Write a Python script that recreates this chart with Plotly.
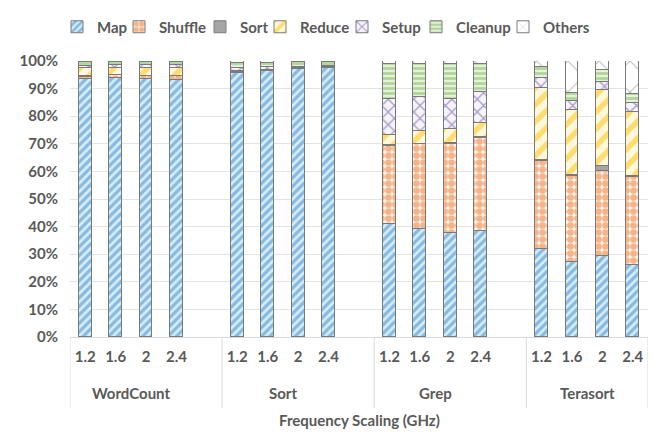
import plotly.graph_objects as go

# Benchmarks and CPU frequency settings (GHz)
benchmarks = ["WordCount", "Sort", "Grep", "Terasort"]
freqs = ["1.2", "1.6", "2", "2.4"]

# Share of execution time per phase (%), ordered WordCount, Sort, Grep, Terasort x 4 freqs
map_pct = [93.3, 93.8, 93.5, 93.2, 95.6, 96.3, 97.0, 97.4,
           41.0, 39.0, 37.7, 38.5, 31.8, 27.0, 29.3, 26.0]
shuffle_pct = [1.0, 1.0, 1.0, 1.2, 0.3, 0.3, 0.2, 0.2,
               28.3, 30.8, 32.3, 33.5, 32.0, 31.3, 31.0, 32.0]
sort_pct = [0.2, 0.2, 0.2, 0.2, 0.2, 0.1, 0.1, 0.1,
            0.3, 0.3, 0.3, 0.3, 0.3, 0.3, 1.7, 0.3]
reduce_pct = [2.8, 2.6, 2.8, 2.8, 0.2, 0.2, 0.1, 0.1,
              3.5, 4.4, 5.2, 5.4, 26.0, 23.6, 27.5, 23.4]
setup_pct = [1.0, 1.0, 1.0, 1.0, 1.0, 0.8, 0.5, 0.5,
             13.3, 12.3, 10.8, 11.1, 3.9, 3.4, 3.0, 3.2]
cleanup_pct = [1.2, 1.0, 1.0, 1.1, 1.8, 1.5, 1.6, 1.4,
               12.4, 12.0, 12.5, 10.0, 4.0, 2.7, 4.2, 3.1]
others_pct = [0.5, 0.4, 0.5, 0.5, 0.9, 0.8, 0.5, 0.3,
              1.2, 1.2, 1.2, 1.2, 2.0, 11.7, 3.3, 12.0]

# Category slots: 4 frequencies per benchmark plus one empty slot between groups
slots_per_group = 5
x_pos = [g * slots_per_group + i for g in range(len(benchmarks)) for i in range(len(freqs))]
tick_text = [f for _ in benchmarks for f in freqs]

# name, values, background, stripe colour, pattern shape, pattern size, solidity
series = [
    ("Map", map_pct, "#D6EEFA", "#3A86C8", "/", 6, 0.55),
    ("Shuffle", shuffle_pct, "#FFF4EA", "#EA7428", ".", 7, 0.72),
    ("Sort", sort_pct, "#A5A5A5", "#A5A5A5", "", 8, 0.5),
    ("Reduce", reduce_pct, "#FFF8DA", "#FFC000", "/", 12, 0.45),
    ("Setup", setup_pct, "#F6F3FB", "#5B4899", "x", 9, 0.28),
    ("Cleanup", cleanup_pct, "#E4F1DB", "#7DB856", "-", 5, 0.55),
    ("Others", others_pct, "#FFFFFF", "#7F7F7F", "x", 22, 0.1),
]

# Left edge (px) of each legend entry along the top row
legend_x = [57, 119, 200, 260, 342, 416, 503]

label_font = dict(family="Lato", size=15, color="#595959", weight="bold")

fig = go.Figure()
layout_legends = {}
for k, (name, vals, bg, fg, shape, size, solidity) in enumerate(series):
    legend_id = "legend" if k == 0 else f"legend{k + 1}"
    fig.add_trace(go.Bar(
        name=name,
        x=x_pos,
        y=vals,
        width=0.42,
        legend=legend_id,
        showlegend=True,
        marker=dict(
            color=bg,
            line=dict(color="#7A7A7A", width=1),
            pattern=dict(shape=shape, fgcolor=fg, bgcolor=bg, size=size,
                         solidity=solidity, fillmode="overlay"),
        ),
    ))
    layout_legends[legend_id] = dict(
        orientation="h", xref="container", yref="container",
        x=legend_x[k] / 654, xanchor="left", y=1 - 27 / 445, yanchor="middle",
        font=label_font, itemwidth=30, bgcolor="rgba(0,0,0,0)",
        visible=True,
    )

# Group labels under the frequency ticks
annotations = []
for g, name in enumerate(benchmarks):
    annotations.append(dict(
        x=g * slots_per_group + 1.5, y=-0.203, xref="x", yref="paper",
        yanchor="middle", text=name, showarrow=False, font=label_font,
    ))
annotations.append(dict(
    x=0.5, y=-0.30, xref="paper", yref="paper", yanchor="middle",
    text="Frequency Scaling (GHz)", showarrow=False, font=label_font,
))

# Vertical separators between benchmark groups
shapes = []
for g in range(len(benchmarks) + 1):
    xs = g * slots_per_group - 0.5 if g < len(benchmarks) else 18.5
    shapes.append(dict(
        type="line", xref="x", yref="paper", x0=xs, x1=xs, y0=0, y1=-0.257,
        line=dict(color="#D9D9D9", width=1),
    ))

fig.update_layout(
    barmode="stack",
    showlegend=True,
    width=654, height=445,
    margin=dict(l=70, r=6, t=61, b=108, autoexpand=False),
    plot_bgcolor="white",
    paper_bgcolor="white",
    font=label_font,
    xaxis=dict(
        range=[-0.5, 18.5],
        tickmode="array", tickvals=x_pos, ticktext=tick_text,
        showgrid=False, zeroline=False, showline=True, linecolor="#D9D9D9",
        ticks="", tickfont=label_font, ticklabelstandoff=6,
    ),
    yaxis=dict(
        range=[0, 100], dtick=10, ticksuffix="%",
        showgrid=True, gridcolor="#E3E3E3", zeroline=False, showline=False,
        tickfont=label_font, ticklabelstandoff=11,
    ),
    annotations=annotations,
    shapes=shapes,
    bargap=0,
    **layout_legends,
)

fig.write_html("out.html")
